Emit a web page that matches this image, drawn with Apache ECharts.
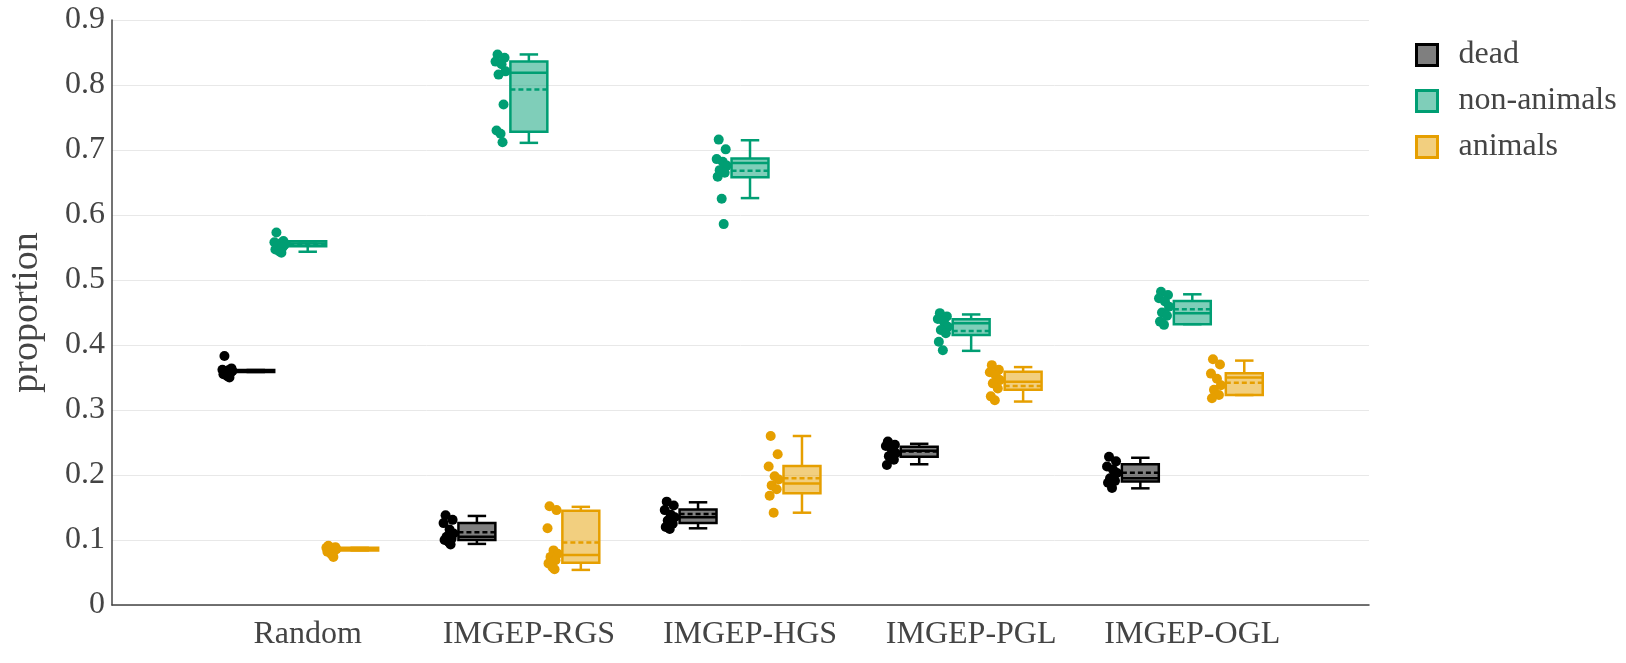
<!DOCTYPE html>
<html lang="en">
	<head>
		<meta charset="UTF-8">
		<title>proportion</title>
		<style type="text/css">
			html,
			body,
			#main {
				padding: 0;
				margin: 0;
				overflow: hidden;
				background-color: #fff;
				width: 1626px;
				height: 663px;
			}
		</style>
	</head>
	<body>
		<div id="main"></div>
		<script type="text/javascript" src="https://cdn.jsdelivr.net/npm/echarts@6.0.0/dist/echarts.min.js"></script>
		<script type="text/javascript">
			const categories = ['Random', 'IMGEP-RGS', 'IMGEP-HGS', 'IMGEP-PGL', 'IMGEP-OGL'];
			const groupNames = ['dead', 'non-animals', 'animals'];

			// box stats per category: [whiskerLow, q1, median, q3, whiskerHigh, mean]
			const deadBoxes = [
				[0.3585, 0.3585, 0.360, 0.3615, 0.3615, 0.360],
				[0.094, 0.100, 0.105, 0.126, 0.137, 0.112],
				[0.118, 0.126, 0.135, 0.147, 0.158, 0.140],
				[0.2165, 0.228, 0.2375, 0.2435, 0.248, 0.236],
				[0.1795, 0.190, 0.195, 0.2165, 0.2265, 0.2035]
			];
			const nonAnimalBoxes = [
				[0.5435, 0.552, 0.556, 0.5595, 0.5595, 0.5555],
				[0.711, 0.728, 0.819, 0.836, 0.847, 0.793],
				[0.626, 0.658, 0.680, 0.687, 0.715, 0.668],
				[0.391, 0.4155, 0.4335, 0.4395, 0.447, 0.4215],
				[0.432, 0.432, 0.4487, 0.4677, 0.478, 0.455]
			];
			const animalBoxes = [
				[0.084, 0.084, 0.086, 0.088, 0.088, 0.086],
				[0.054, 0.065, 0.077, 0.145, 0.151, 0.096],
				[0.142, 0.172, 0.187, 0.214, 0.260, 0.195],
				[0.313, 0.331, 0.3435, 0.359, 0.366, 0.337],
				[0.323, 0.323, 0.350, 0.3565, 0.376, 0.342]
			];

			// individual runs per category
			const deadPoints = [
				[0.383, 0.364, 0.362, 0.361, 0.360, 0.359, 0.357, 0.355, 0.352, 0.350],
				[0.138, 0.131, 0.126, 0.116, 0.110, 0.105, 0.102, 0.100, 0.097, 0.093],
				[0.159, 0.153, 0.146, 0.139, 0.135, 0.130, 0.125, 0.120, 0.117],
				[0.2515, 0.2465, 0.2445, 0.2385, 0.2335, 0.229, 0.2235, 0.2155],
				[0.228, 0.221, 0.213, 0.208, 0.203, 0.195, 0.191, 0.188, 0.180]
			];
			const nonAnimalPoints = [
				[0.573, 0.560, 0.558, 0.556, 0.554, 0.552, 0.550, 0.547, 0.544, 0.542],
				[0.847, 0.842, 0.836, 0.832, 0.821, 0.816, 0.770, 0.730, 0.725, 0.712],
				[0.716, 0.701, 0.686, 0.682, 0.676, 0.669, 0.665, 0.659, 0.625, 0.586],
				[0.449, 0.444, 0.440, 0.436, 0.428, 0.423, 0.418, 0.405, 0.392],
				[0.482, 0.477, 0.472, 0.467, 0.459, 0.450, 0.445, 0.436, 0.431]
			];
			const animalPoints = [
				[0.091, 0.089, 0.088, 0.087, 0.086, 0.085, 0.084, 0.082, 0.078, 0.074],
				[0.152, 0.146, 0.118, 0.084, 0.079, 0.074, 0.069, 0.064, 0.058, 0.055],
				[0.260, 0.232, 0.213, 0.198, 0.193, 0.184, 0.178, 0.168, 0.142],
				[0.369, 0.362, 0.358, 0.353, 0.346, 0.341, 0.333, 0.321, 0.315],
				[0.378, 0.370, 0.356, 0.348, 0.338, 0.331, 0.323, 0.318]
			];

			const yTicks = [0, 0.1, 0.2, 0.3, 0.4, 0.5, 0.6, 0.7, 0.8, 0.9];

			// styling
			const FONT = 'Liberation Serif';
			const TEXT = '#444';
			const strokes = ['#000000', '#009E73', '#E69F00'];
			const fills = ['rgba(0,0,0,0.5)', 'rgba(0,158,115,0.5)', 'rgba(230,159,0,0.5)'];
			const groupOffset = [-0.235, 0, 0.235]; // in category units
			const boxWidth = 0.167;
			const pointOffset = -0.128;
			const jitterPx = [-3, 4, -5, 1, 5, -2, 3, -4, 0, 2];

			const boxSets = [deadBoxes, nonAnimalBoxes, animalBoxes];
			const pointSets = [deadPoints, nonAnimalPoints, animalPoints];

			function boxRenderer (g) {
				return function (params, api) {
					const unit = api.size([1, 0])[0];
					const c = api.coord([api.value(0), 0])[0] + groupOffset[g] * unit;
					const half = boxWidth * unit / 2;
					const y = i => api.coord([0, api.value(i)])[1];
					const wl = y(1), q1 = y(2), med = y(3), q3 = y(4), wh = y(5), mean = y(6);
					const line = { stroke: strokes[g], lineWidth: 2.5 };
					return {
						type: 'group',
						children: [
							{ type: 'line', shape: { x1: c, y1: q1, x2: c, y2: wl }, style: line },
							{ type: 'line', shape: { x1: c, y1: q3, x2: c, y2: wh }, style: line },
							{ type: 'line', shape: { x1: c - half / 2, y1: wl, x2: c + half / 2, y2: wl }, style: line },
							{ type: 'line', shape: { x1: c - half / 2, y1: wh, x2: c + half / 2, y2: wh }, style: line },
							{ type: 'rect', shape: { x: c - half, y: q3, width: half * 2, height: Math.max(q1 - q3, 0.5) },
								style: { fill: fills[g], stroke: strokes[g], lineWidth: 2.5 } },
							{ type: 'line', shape: { x1: c - half, y1: med, x2: c + half, y2: med }, style: line },
							{ type: 'line', shape: { x1: c - half, y1: mean, x2: c + half, y2: mean },
								style: { stroke: strokes[g], lineWidth: 2.5, lineDash: [5, 3] } }
						]
					};
				};
			}

			function pointRenderer (g) {
				return function (params, api) {
					const unit = api.size([1, 0])[0];
					const p = api.coord([api.value(0), api.value(1)]);
					const x = p[0] + (groupOffset[g] + pointOffset) * unit + jitterPx[api.value(2) % jitterPx.length];
					return {
						type: 'circle',
						shape: { cx: x, cy: p[1], r: 5 },
						style: { fill: strokes[g] }
					};
				};
			}

			const series = [];
			groupNames.forEach(function (name, g) {
				const pts = [];
				pointSets[g].forEach(function (vals, ci) {
					vals.forEach(function (v, k) { pts.push([ci, v, k]); });
				});
				series.push({
					name: name,
					type: 'custom',
					renderItem: pointRenderer(g),
					encode: { x: 0, y: 1 },
					itemStyle: { color: fills[g], borderColor: strokes[g] },
					data: pts,
					z: 3
				});
				series.push({
					name: name,
					type: 'custom',
					renderItem: boxRenderer(g),
					encode: { x: 0, y: [1, 2, 3, 4, 5, 6] },
					itemStyle: { color: fills[g], borderColor: strokes[g] },
					data: boxSets[g].map((b, ci) => [ci].concat(b)),
					z: 2
				});
			});

			const uiChart = echarts.init(document.getElementById('main'));
			uiChart.setOption({
				animation: false,
				backgroundColor: '#fff',
				grid: { left: 109, right: 257, top: 20, bottom: 58 },
				legend: {
					orient: 'vertical',
					left: 1410,
					top: 32,
					itemWidth: 21,
					itemHeight: 21,
					itemGap: 10,
					icon: 'rect',
					data: groupNames.map((n, g) => ({
						name: n,
						itemStyle: { color: fills[g], borderColor: strokes[g], borderWidth: 3 }
					})),
					textStyle: { fontFamily: FONT, fontSize: 32, color: TEXT, lineHeight: 36, padding: [0, 0, 0, 16] }
				},
				xAxis: {
					type: 'value',
					min: -0.885,
					max: 4.799,
					axisLine: { show: true, onZero: false, lineStyle: { color: TEXT, width: 1.5 } },
					axisTick: { show: false },
					splitLine: { show: false },
					axisLabel: {
						customValues: [0, 1, 2, 3, 4],
						formatter: v => categories[Math.round(v)],
						fontFamily: FONT,
						fontSize: 32,
						color: TEXT,
						margin: 14
					}
				},
				yAxis: {
					type: 'value',
					min: 0,
					max: 0.9,
					interval: 0.1,
					name: 'proportion',
					nameLocation: 'middle',
					nameGap: 66,
					nameTextStyle: { fontFamily: FONT, fontSize: 38, color: TEXT },
					axisLine: { show: true, onZero: false, lineStyle: { color: TEXT, width: 1.5 } },
					axisTick: { show: false },
					splitLine: { lineStyle: { color: '#e8e8e8', width: 1 } },
					axisLabel: {
						customValues: yTicks,
						formatter: v => String(+v.toFixed(1)),
						fontFamily: FONT,
						fontSize: 32,
						color: TEXT,
						margin: 7
					}
				},
				series: series
			});
		</script>
	</body>
</html>
